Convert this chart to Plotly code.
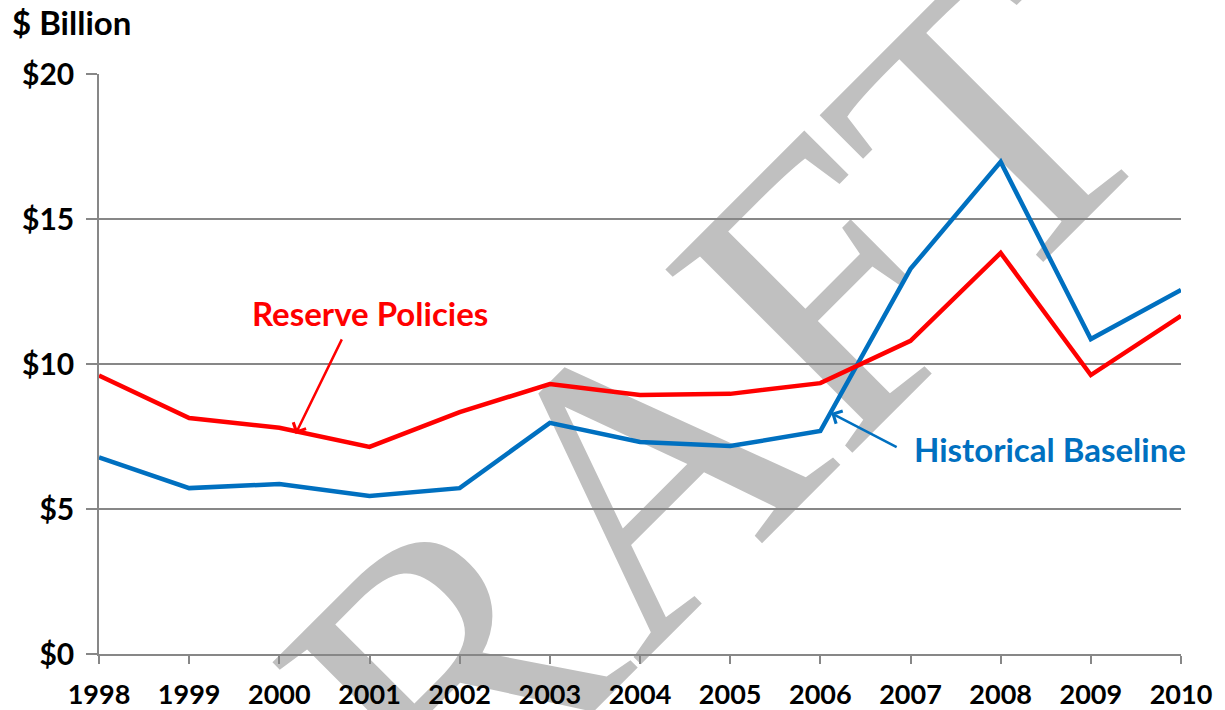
import plotly.graph_objects as go

years = list(range(1998, 2011))
reserve_policies = [9.6, 8.14, 7.8, 7.14, 8.34, 9.31, 8.93, 8.97, 9.34, 10.8, 13.83, 9.62, 11.66]
historical_baseline = [6.78, 5.72, 5.86, 5.45, 5.72, 7.97, 7.31, 7.17, 7.69, 13.28, 16.97, 10.86, 12.55]
y_ticks = [0, 5, 10, 15, 20]
y_ticktext = ["$0", "$5", "$10", "$15", "$20"]

RED = "#FF0000"
BLUE = "#0070C0"
FONT = "Lato"
GRID = "#878787"

fig = go.Figure()
fig.add_trace(go.Scatter(x=years, y=historical_baseline, mode="lines",
                         line=dict(color=BLUE, width=4.5), name="Historical Baseline"))
fig.add_trace(go.Scatter(x=years, y=reserve_policies, mode="lines",
                         line=dict(color=RED, width=4.5), name="Reserve Policies"))

# DRAFT watermark behind everything
cx, cy = 0.447, 0.317
fig.add_shape(type="rect", xref="paper", yref="paper",
              x0=cx - 0.05, x1=cx + 0.05, y0=cy - 0.05, y1=cy + 0.05,
              layer="below", line=dict(width=0), fillcolor="rgba(0,0,0,0)",
              label=dict(text="DRAFT", textangle=-45, textposition="middle center",
                         font=dict(family="Liberation Serif", size=400, color="#C0C0C0")))

fig.update_layout(
    width=1225, height=710,
    margin=dict(l=99, r=44, t=74, b=56, autoexpand=False),
    paper_bgcolor="white", plot_bgcolor="rgba(0,0,0,0)",
    showlegend=False,
    font=dict(family=FONT, color="black"),
    xaxis=dict(range=[1998, 2010], tickmode="array", tickvals=years,
               ticks="outside", ticklen=8, tickcolor=GRID, tickwidth=1.5,
               showline=True, linecolor=GRID, linewidth=1.5,
               showgrid=False, zeroline=False, automargin=False,
               tickfont=dict(family=FONT, size=27, weight="bold", color="black"),
               ticklabelstandoff=8),
    yaxis=dict(range=[0, 20], tickmode="array", tickvals=y_ticks, ticktext=y_ticktext,
               ticks="outside", ticklen=11, tickcolor=GRID, tickwidth=1.5,
               showline=True, linecolor=GRID, linewidth=1.5,
               showgrid=True, gridcolor=GRID, gridwidth=1.5, zeroline=False, automargin=False,
               tickfont=dict(family=FONT, size=30, weight="bold", color="black"),
               ticklabelstandoff=6),
)

fig.add_annotation(xref="paper", yref="paper", x=-0.0823, y=1.0897, xanchor="left", yanchor="middle",
                   text="$ Billion", showarrow=False,
                   font=dict(family=FONT, size=33, weight="bold", color="black"))

fig.add_annotation(x=2001.0, y=11.76, text="Reserve Policies", showarrow=False,
                   font=dict(family=FONT, size=33, weight="bold", color=RED))
fig.add_annotation(x=2000.18, y=7.59, ax=47, ay=-96, text="", showarrow=True,
                   arrowhead=4, arrowsize=1.1, arrowwidth=2.5, arrowcolor=RED)

fig.add_annotation(x=2008.55, y=7.07, text="Historical Baseline", showarrow=False,
                   font=dict(family=FONT, size=33, weight="bold", color=BLUE))
fig.add_annotation(x=2006.12, y=8.31, ax=67, ay=35, text="", showarrow=True,
                   arrowhead=4, arrowsize=1.1, arrowwidth=2.5, arrowcolor=BLUE)

fig.write_html("out.html")
